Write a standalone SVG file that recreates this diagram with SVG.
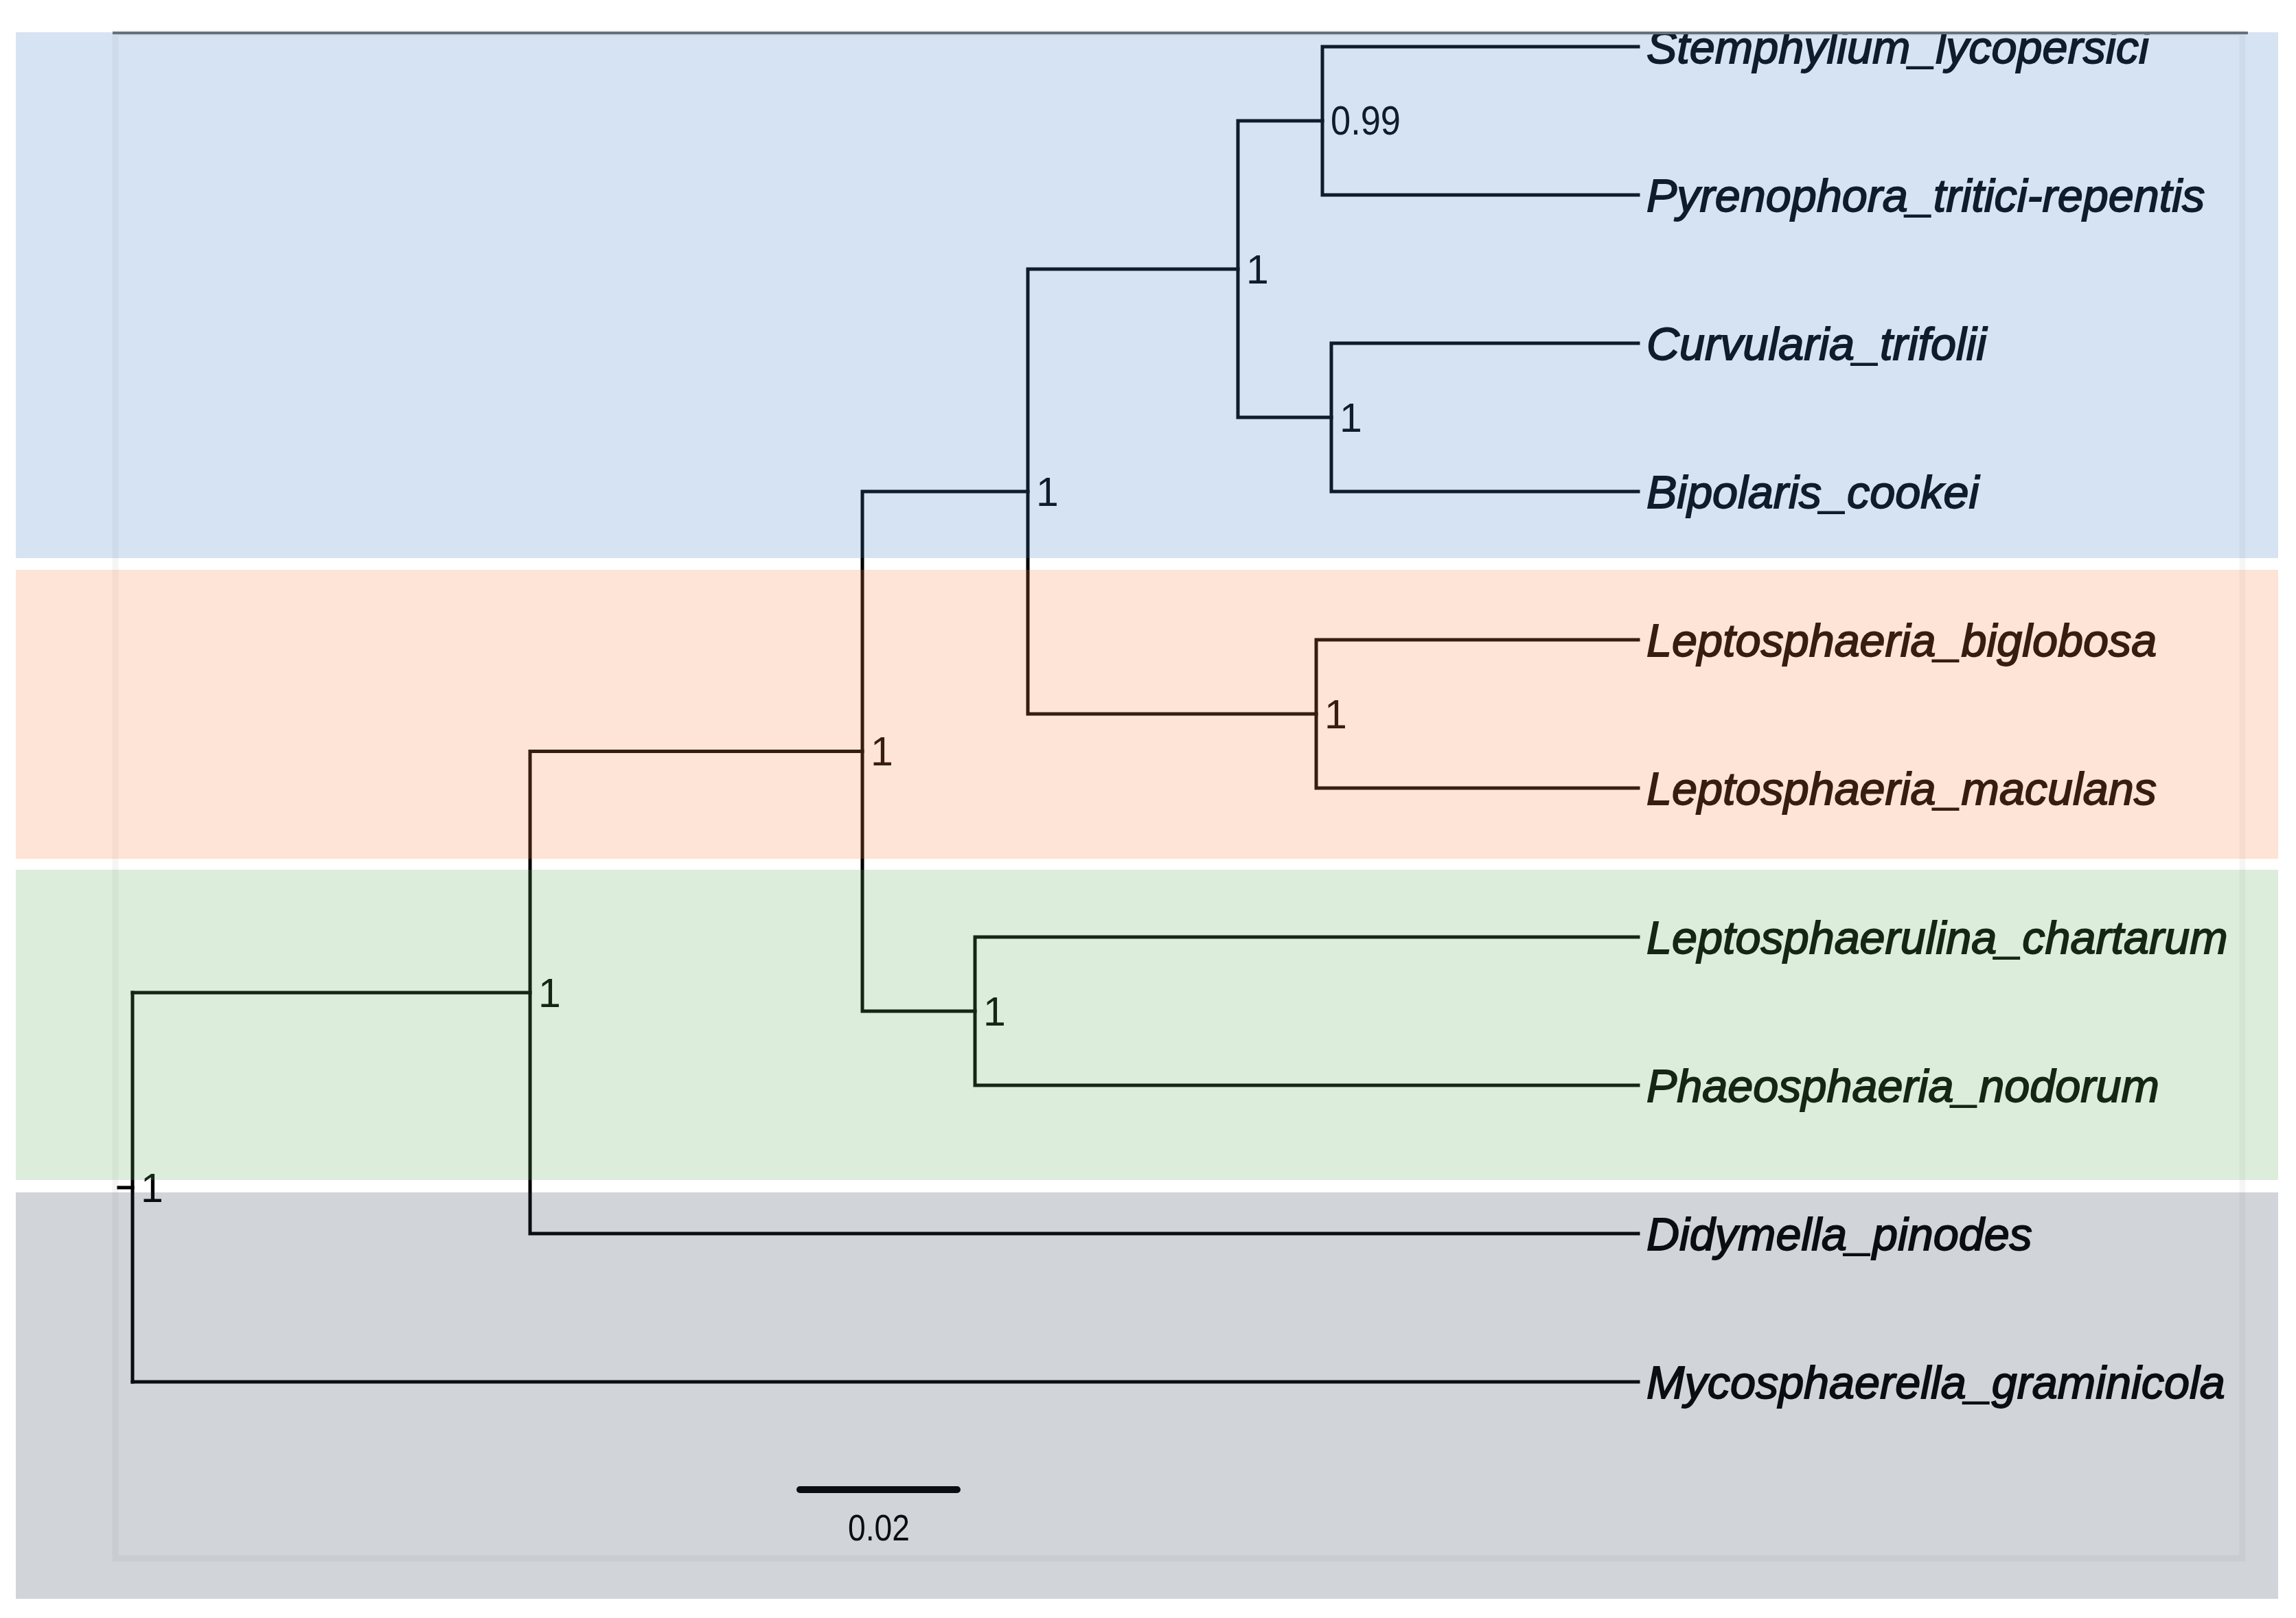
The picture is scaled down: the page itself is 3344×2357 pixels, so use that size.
<svg xmlns="http://www.w3.org/2000/svg" width="3344" height="2357" viewBox="0 0 3344 2357">
<style>
.br{fill:none;stroke:#000;stroke-width:5;stroke-linecap:square}
.leaf{font-family:"Liberation Sans",Arial,sans-serif;font-style:italic;font-size:66.5px;fill:#000;stroke:#000;stroke-width:1.8}
.sup{font-family:"Liberation Sans",Arial,sans-serif;font-size:59px;fill:#000}
.ov{fill-opacity:0.22}
</style>
<defs>
<clipPath id="plot"><rect x="0" y="49" width="3344" height="2308"/></clipPath>
</defs>
<rect x="0" y="0" width="3344" height="2357" fill="#fff"/>
<g id="frame">
<rect x="168" y="48" width="3098" height="2222" fill="none" stroke="#f5f5f5" stroke-width="9"/>
</g>
<g clip-path="url(#plot)">
<g id="connectors">
<path class="br" d="M173 1730H193"/>
<path class="br" d="M193 1446V2013"/>
<path class="br" d="M193 1446H772M193 2013H2386"/>
<path class="br" d="M772 1094.5V1797M772 1094.5H1256M772 1797H2386"/>
<path class="br" d="M1256 716V1473M1256 716H1497M1256 1473H1420"/>
<path class="br" d="M1497 392V1040M1497 392H1803M1497 1040H1917"/>
<path class="br" d="M1803 176V608M1803 176H1926M1803 608H1939"/>
<path class="br" d="M1926 68V284M1926 68H2386M1926 284H2386"/>
<path class="br" d="M1939 500V716M1939 500H2386M1939 716H2386"/>
<path class="br" d="M1917 932V1148M1917 932H2386M1917 1148H2386"/>
<path class="br" d="M1420 1365V1581M1420 1365H2386M1420 1581H2386"/>
</g>
<g id="leaf-Stemphylium_lycopersici"><text class="leaf" x="2398" y="91.5">Stemphylium_lycopersici</text></g>
<g id="leaf-Pyrenophora_tritici-repentis"><text class="leaf" x="2398" y="307.5">Pyrenophora_tritici-repentis</text></g>
<g id="leaf-Curvularia_trifolii"><text class="leaf" x="2398" y="523.5">Curvularia_trifolii</text></g>
<g id="leaf-Bipolaris_cookei"><text class="leaf" x="2398" y="739.5">Bipolaris_cookei</text></g>
<g id="leaf-Leptosphaeria_biglobosa"><text class="leaf" x="2398" y="955.5">Leptosphaeria_biglobosa</text></g>
<g id="leaf-Leptosphaeria_maculans"><text class="leaf" x="2398" y="1171.5">Leptosphaeria_maculans</text></g>
<g id="leaf-Leptosphaerulina_chartarum"><text class="leaf" x="2398" y="1388.5">Leptosphaerulina_chartarum</text></g>
<g id="leaf-Phaeosphaeria_nodorum"><text class="leaf" x="2398" y="1604.5">Phaeosphaeria_nodorum</text></g>
<g id="leaf-Didymella_pinodes"><text class="leaf" x="2398" y="1820.5">Didymella_pinodes</text></g>
<g id="leaf-Mycosphaerella_graminicola"><text class="leaf" x="2398" y="2036.5">Mycosphaerella_graminicola</text></g>
<g id="node-root"><text class="sup" x="205" y="1751">1</text></g>
<g id="node-A"><text class="sup" x="784" y="1467">1</text></g>
<g id="node-B"><text class="sup" x="1268" y="1115">1</text></g>
<g id="node-C"><text class="sup" x="1509" y="737">1</text></g>
<g id="node-D"><text class="sup" x="1815" y="413">1</text></g>
<g id="node-E"><text class="sup" x="1938" y="196" textLength="102" lengthAdjust="spacingAndGlyphs">0.99</text></g>
<g id="node-F"><text class="sup" x="1951" y="629">1</text></g>
<g id="node-G"><text class="sup" x="1929" y="1061">1</text></g>
<g id="node-H"><text class="sup" x="1432" y="1494">1</text></g>
</g>
<g id="scale-bar">
<path d="M1165 2170H1394" stroke="#000" stroke-width="10" stroke-linecap="round"/>
<text class="sup" x="1280" y="2244" text-anchor="middle" textLength="90" lengthAdjust="spacingAndGlyphs" style="font-size:53px">0.02</text>
</g>
<path d="M164 48H3274" stroke="#6e6e6e" stroke-width="4"/>
<g id="clade-bands">
<rect class="ov" x="23" y="47" width="3295" height="766" fill="#447fc8"/>
<rect class="ov" x="23" y="830" width="3295" height="421" fill="#f58444"/>
<rect class="ov" x="23" y="1267" width="3295" height="452" fill="#5fad5b"/>
<rect class="ov" x="23" y="1737" width="3295" height="592" fill="#2d3b4d"/>
</g>
</svg>
